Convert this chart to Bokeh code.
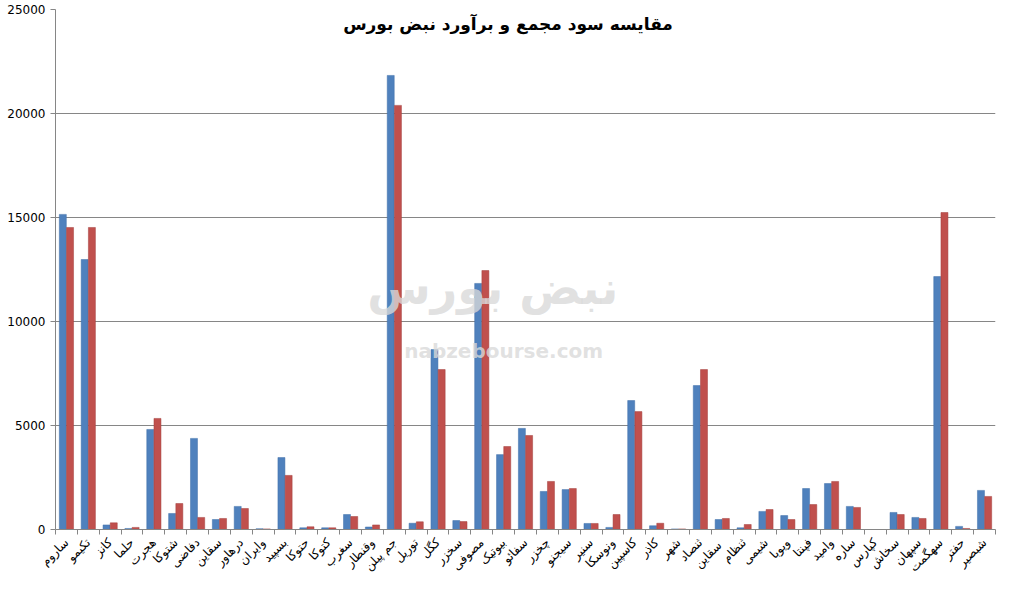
import math
from bokeh.plotting import figure
from bokeh.models import ColumnDataSource, Range1d, FixedTicker, Label
from bokeh.transform import dodge
from bokeh.embed import file_html
from bokeh.resources import INLINE

categories = ["ساروم", "تکیمو", "کانز", "حلما", "هجرت", "شتوکا", "دفاضی", "سقاین", "درهاور", "وایران",
              "بسپید", "حتوکا", "کتوکا", "سغرب", "وقنطار", "جم پیلن", "توریل", "کگل", "سخزر", "مصوفی",
              "بیوتیک", "سفائو", "چخزر", "سیجنو", "سنیر", "ونوسکا", "کاسپین", "کاذر", "شهر", "ثنصاد",
              "سقاین ", "ثنظام", "شیمی", "ویوبا", "فپنتا", "وامید", "ساره", "کپارس", "سخاش", "سپهان",
              "سهگمت", "حفتر", "شبصیر"]
sood_majma = [15150, 12980, 220, 50, 4810, 770, 4380, 480, 1110, 40,
              3460, 80, 80, 720, 120, 21830, 300, 8650, 430, 11830,
              3600, 4860, 1830, 1920, 290, 100, 6200, 180, 30, 6920,
              480, 80, 870, 670, 1970, 2210, 1110, 0, 820, 580,
              12160, 150, 1880]
baravord_nabz = [14520, 14520, 320, 100, 5340, 1250, 580, 530, 1010, 30,
                 2600, 130, 80, 625, 220, 20390, 370, 7690, 380, 12450,
                 3990, 4520, 2310, 1970, 290, 720, 5670, 300, 30, 7690,
                 530, 240, 960, 480, 1200, 2310, 1060, 0, 720, 530,
                 15240, 50, 1590]
y_ticks = [0, 5000, 10000, 15000, 20000, 25000]
title_text = "مقایسه سود مجمع و برآورد نبض بورس"

n = len(categories)
idx = list(range(n))
src = ColumnDataSource(dict(x=idx, a=sood_majma, b=baravord_nabz))

p = figure(width=997, height=584, output_backend="svg", toolbar_location=None,
           x_range=Range1d(-0.5, n - 0.5), y_range=Range1d(0, 25000),
           min_border_left=55, min_border_right=2, min_border_top=9, min_border_bottom=55)
p.outline_line_color = None
p.background_fill_color = "white"
p.border_fill_color = "white"

p.vbar(x=dodge("x", -0.165), top="a", width=0.32, bottom=0, source=src,
       fill_color="#4F81BD", line_color="#3E6FA8", line_width=0.5)
p.vbar(x=dodge("x", 0.165), top="b", width=0.32, bottom=0, source=src,
       fill_color="#C0504D", line_color="#A33F3C", line_width=0.5)

# y axis
p.yaxis.ticker = FixedTicker(ticks=y_ticks)
p.yaxis.axis_line_color = "#868686"
p.yaxis.major_tick_line_color = "#868686"
p.yaxis.major_tick_out = 5
p.yaxis.major_tick_in = 0
p.yaxis.minor_tick_line_color = None
p.yaxis.major_label_text_font = "DejaVu Sans"
p.yaxis.major_label_text_font_size = "12px"
p.yaxis.major_label_text_color = "#000000"
p.ygrid.ticker = FixedTicker(ticks=y_ticks)
p.ygrid.grid_line_color = "#868686"
p.xgrid.grid_line_color = None

# x axis
p.xaxis.ticker = FixedTicker(ticks=idx, minor_ticks=[i - 0.5 for i in range(n + 1)])
p.xaxis.major_label_overrides = {i: c for i, c in enumerate(categories)}
p.xaxis.major_label_orientation = math.pi / 4
p.xaxis.major_tick_line_color = None
p.xaxis.minor_tick_line_color = "#868686"
p.xaxis.minor_tick_out = 5
p.xaxis.minor_tick_in = 0
p.xaxis.axis_line_color = "#868686"
p.xaxis.major_label_text_font = "DejaVu Sans"
p.xaxis.major_label_text_font_size = "12px"
p.xaxis.major_label_text_color = "#000000"
p.xaxis.major_label_standoff = 5

# watermark
p.add_layout(Label(x=19.5, y=10300, text="نبض بورس", text_font="DejaVu Sans",
                   text_font_size="46px", text_font_style="bold", text_color="#d9d9d9",
                   text_align="center", text_alpha=0.8))
p.add_layout(Label(x=20.0, y=8000, text="nabzebourse.com", text_font="DejaVu Sans",
                   text_font_size="20px", text_font_style="bold", text_color="#d9d9d9",
                   text_align="center", text_alpha=0.8))

# title
p.add_layout(Label(x=20.2, y=24300, text=title_text, text_font="DejaVu Sans",
                   text_font_size="17px", text_font_style="bold", text_color="#000000",
                   text_align="center", text_baseline="middle"))

open("out.html", "w").write(file_html(p, INLINE))
